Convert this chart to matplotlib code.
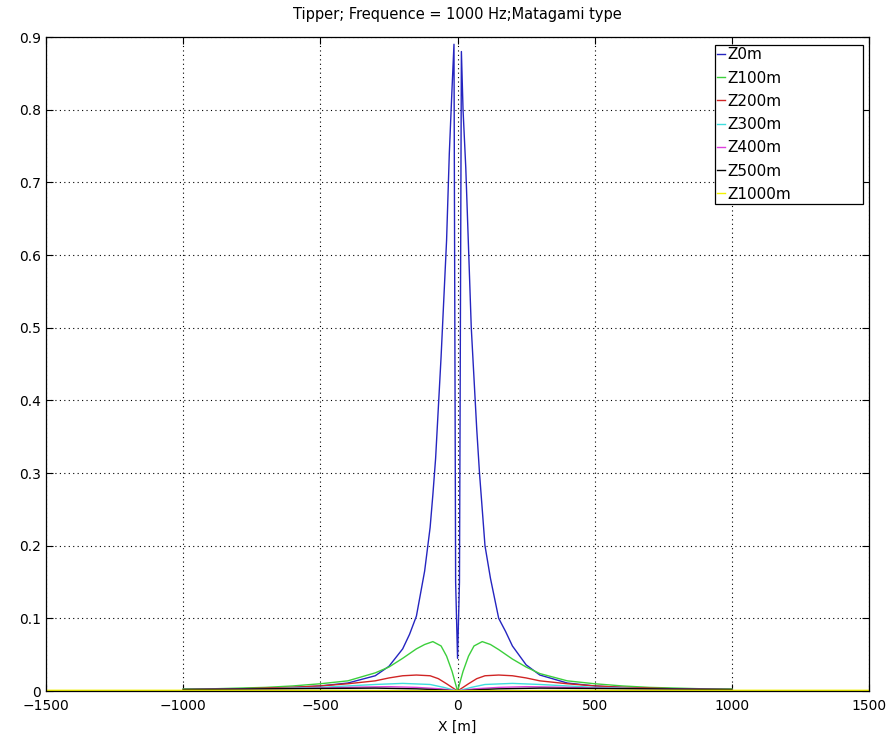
import numpy as np
import matplotlib
matplotlib.use("Agg")
import matplotlib.pyplot as plt

plt.rcParams['font.family'] = ['DejaVu Sans']

# Z0m
x_z0 = [-1000, -800, -600, -500, -400, -300, -250, -200, -175, -150, -120, -100, -90, -80,
        -70, -60, -50, -40, -30, -20, -13, -7, 0, 7, 14, 20, 30, 40, 50, 60, 70, 80, 90,
        100, 120, 150, 175, 200, 250, 300, 400, 500, 600, 800, 1000]
y_z0 = [0.002, 0.003, 0.005, 0.007, 0.011, 0.021, 0.034, 0.058, 0.078, 0.103, 0.165, 0.225,
        0.27, 0.32, 0.39, 0.46, 0.54, 0.62, 0.74, 0.83, 0.89, 0.15, 0.045, 0.15, 0.88, 0.80,
        0.72, 0.61, 0.50, 0.43, 0.36, 0.30, 0.25, 0.20, 0.155, 0.10, 0.082, 0.062, 0.036,
        0.022, 0.011, 0.007, 0.005, 0.003, 0.002]

# Z100m
x_z100 = [-1000, -900, -800, -700, -600, -500, -400, -300, -250, -200, -150, -120, -90, -60,
          -40, -20, 0, 20, 40, 60, 90, 120, 150, 200, 250, 300, 400, 500, 600, 700, 800,
          900, 1000]
y_z100 = [0.003, 0.003, 0.004, 0.005, 0.007, 0.010, 0.014, 0.025, 0.033, 0.045, 0.058, 0.064,
          0.068, 0.062, 0.048, 0.027, 0.0, 0.027, 0.048, 0.062, 0.068, 0.064, 0.057, 0.044,
          0.033, 0.024, 0.014, 0.010, 0.007, 0.005, 0.004, 0.003, 0.003]

# Z200m
x_z200 = [-1000, -800, -600, -500, -400, -300, -250, -200, -150, -100, -70, -40, 0,
          40, 70, 100, 150, 200, 250, 300, 400, 500, 600, 800, 1000]
y_z200 = [0.002, 0.003, 0.005, 0.007, 0.010, 0.014, 0.018, 0.021, 0.022, 0.021, 0.017, 0.010,
          0.0, 0.010, 0.017, 0.021, 0.022, 0.021, 0.018, 0.014, 0.010, 0.007, 0.005, 0.003,
          0.002]

# Z300m
x_z300 = [-1000, -700, -500, -400, -300, -200, -100, -50, 0, 50, 100, 200, 300, 400, 500,
          700, 1000]
y_z300 = [0.002, 0.003, 0.005, 0.007, 0.009, 0.0105, 0.009, 0.005, 0.0, 0.005, 0.009,
          0.0105, 0.009, 0.007, 0.005, 0.003, 0.002]

# Z400m
x_z400 = [-1000, -700, -500, -350, -250, -150, -60, 0, 60, 150, 250, 350, 500, 700, 1000]
y_z400 = [0.002, 0.003, 0.004, 0.0055, 0.006, 0.005, 0.003, 0.0, 0.003, 0.005, 0.006, 0.0055,
          0.004, 0.003, 0.002]

# Z500m
x_z500 = [-1000, -700, -500, -300, -150, -60, 0, 60, 150, 300, 500, 700, 1000]
y_z500 = [0.002, 0.003, 0.0035, 0.004, 0.003, 0.0015, 0.0, 0.0015, 0.003, 0.004, 0.0035,
          0.003, 0.002]

# Z1000m
x_z1000 = [-1500, -1000, -500, 0, 500, 1000, 1500]
y_z1000 = [0.001, 0.001, 0.001, 0.0005, 0.001, 0.001, 0.001]

labels = ['Z0m', 'Z100m', 'Z200m', 'Z300m', 'Z400m', 'Z500m', 'Z1000m']
colors = ['#2525c0', '#3ccf3c', '#d02525', '#3fdede', '#dd3fdd', '#000000', '#f2f200']

series = [(x_z0, y_z0), (x_z100, y_z100), (x_z200, y_z200), (x_z300, y_z300),
          (x_z400, y_z400), (x_z500, y_z500), (x_z1000, y_z1000)]

fig = plt.figure(figsize=(8.94, 7.46), dpi=100)
ax = fig.add_axes([0.0515, 0.0737, 0.9206, 0.8767])

for (xs, ys), lab, col in zip(series, labels, colors):
    ax.plot(xs, ys, color=col, lw=1.0, label=lab)

ax.set_xlim(-1500, 1500)
ax.set_ylim(0, 0.9)
ax.set_xticks(np.arange(-1500, 1501, 500))
ax.set_yticks(np.arange(0, 0.91, 0.1))
ax.set_yticklabels(['0'] + [f'{v:.1f}' for v in np.arange(0.1, 0.91, 0.1)])
ax.tick_params(direction='in', top=True, right=True, labelsize=10, length=5, width=0.8)
ax.tick_params(axis='x', pad=6)
ax.grid(True, color='black', linestyle=(0, (1, 3)), linewidth=0.8)
for s in ax.spines.values():
    s.set_linewidth(0.9)

ax.set_xlabel('X [m]', fontsize=10, labelpad=5)
ax.set_title('Tipper; Frequence = 1000 Hz;Matagami type', fontsize=10.5, pad=13)

# legend box spans a fixed region in the upper right, like matlab
leg = ax.legend(loc='upper left', bbox_to_anchor=(0.813, 0.7355, 0.18, 0.2523),
                mode='expand', fontsize=11, handlelength=0.5, handletextpad=0.15,
                labelspacing=0.54, borderaxespad=0, fancybox=False, framealpha=1,
                edgecolor='black', borderpad=0.15)
leg.get_frame().set_linewidth(0.9)

fig.savefig('out.png', dpi=100)
